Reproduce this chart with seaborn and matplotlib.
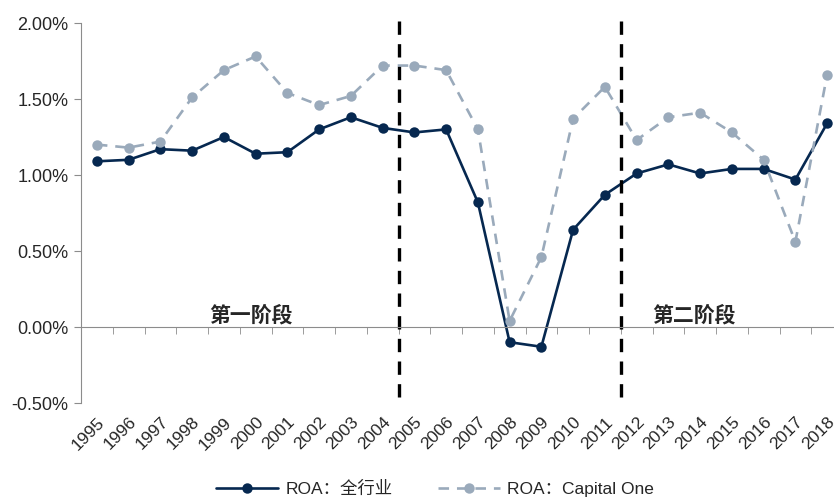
import pandas as pd
import matplotlib.pyplot as plt
import seaborn as sns
import numpy as np

years = [str(y) for y in range(1995, 2019)]
roa_all = [1.09, 1.10, 1.17, 1.16, 1.25, 1.14, 1.15, 1.30, 1.38, 1.31, 1.28, 1.30,
           0.82, -0.10, -0.13, 0.64, 0.87, 1.01, 1.07, 1.01, 1.04, 1.04, 0.97, 1.34]
roa_cof = [1.20, 1.18, 1.22, 1.51, 1.69, 1.78, 1.54, 1.46, 1.52, 1.72, 1.72, 1.69,
           1.30, 0.04, 0.46, 1.37, 1.58, 1.23, 1.38, 1.41, 1.28, 1.10, 0.56, 1.66]
y_ticks = [-0.5, 0.0, 0.5, 1.0, 1.5, 2.0]
stage_breaks = ['2005', '2012']
stage_labels = ['第一阶段', '第二阶段']
stage_label_x = [4.85, 18.8]

dark = '#062850'
light = '#9aaabb'

sns.set_style('white')
plt.rcParams['font.family'] = ['Liberation Sans', 'Noto Sans CJK SC', 'DejaVu Sans']

pos = np.arange(len(years))
df = pd.DataFrame({'pos': pos, 'all': roa_all, 'cof': roa_cof})

fig = plt.figure(figsize=(8.34, 4.99), dpi=100)
ax = fig.add_axes([81 / 834, 1 - 403 / 499, (843 - 81) / 834, (403 - 23) / 499])

sns.lineplot(data=df, x='pos', y='all', ax=ax, color=dark, lw=1.9, marker='o',
             markersize=7.5, markeredgewidth=0, label='ROA：全行业')
sns.lineplot(data=df, x='pos', y='cof', ax=ax, color=light, lw=1.9, marker='o',
             markersize=7.5, markeredgewidth=0, dashes=(4, 3), label='ROA：Capital One')

# vertical stage separators
for b in stage_breaks:
    xb = years.index(b) - 0.5
    ax.vlines(xb, -0.46, 2.05, colors='black', lw=2.4, linestyles=(0, (4, 2.8)), clip_on=False)

for lbl, xl in zip(stage_labels, stage_label_x):
    ax.text(xl, 0.01, lbl, ha='center', va='bottom', fontsize=15, fontweight='bold',
            family=['Noto Sans CJK SC'])

ax.set_xlim(-0.5, len(years) - 0.5)
ax.set_ylim(-0.5, 2.0)
ax.set_yticks(y_ticks)
ax.set_yticklabels([f'{v:.2f}%' for v in y_ticks], fontsize=13)

ax.spines['top'].set_visible(False)
ax.spines['right'].set_visible(False)
ax.spines['left'].set_color('#8c8c8c')
ax.spines['bottom'].set_color('#8c8c8c')
ax.spines['bottom'].set_position(('data', 0))
ax.tick_params(axis='y', length=5, color='#8c8c8c', left=True, pad=4)

ax.set_xticks(pos)
ax.set_xticklabels(years, rotation=45, ha='right', rotation_mode='anchor', fontsize=12.5)
ax.set_xticks(np.arange(-0.5, len(years), 1), minor=True)
ax.tick_params(axis='x', which='major', length=0, pad=63)
ax.tick_params(axis='x', which='minor', length=5, color='#8c8c8c', bottom=True)
ax.set_xlabel('')
ax.set_ylabel('')

ax.get_legend().remove()
handles, labels = ax.get_legend_handles_labels()
fig.legend(handles, labels, loc='lower center', bbox_to_anchor=(435 / 834, -0.028), ncol=2,
           frameon=False, fontsize=12.5, handlelength=3.6, handletextpad=0.4,
           columnspacing=2.6)

fig.savefig('out.png', dpi=100)
